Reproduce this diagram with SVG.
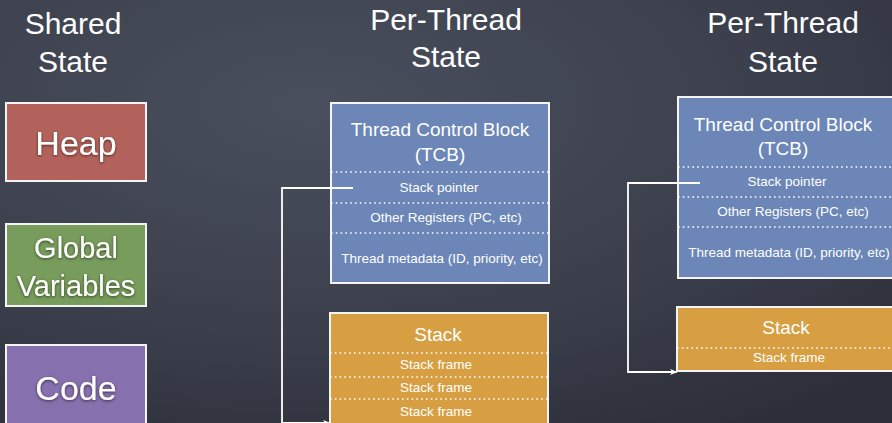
<svg xmlns="http://www.w3.org/2000/svg" width="892" height="423" viewBox="0 0 892 423">
  <defs>
    <radialGradient id="board" cx="0.35" cy="0.25" r="0.9">
      <stop offset="0" stop-color="#4a4f5d"/>
      <stop offset="0.6" stop-color="#3b3f4c"/>
      <stop offset="1" stop-color="#2c2f39"/>
    </radialGradient>
    <filter id="glow" x="-20%" y="-20%" width="140%" height="140%">
      <feGaussianBlur in="SourceAlpha" stdDeviation="1.5"/>
      <feOffset dx="0" dy="1"/>
      <feComponentTransfer><feFuncA type="linear" slope="0.6"/></feComponentTransfer>
      <feMerge><feMergeNode/><feMergeNode in="SourceGraphic"/></feMerge>
    </filter>
    <marker id="arrow" viewBox="0 0 10 10" refX="9" refY="5" markerWidth="8" markerHeight="8" orient="auto" markerUnits="userSpaceOnUse">
      <path d="M0,1 L10,5 L0,9 L3,5 Z" fill="#ffffff"/>
    </marker>
  </defs>
  <style>
    text { font-family: "Liberation Sans", Arial, sans-serif; fill: #ffffff; text-anchor: middle; }
    .title { font-size: 30px; }
    .box { stroke: #f4f4f4; stroke-width: 2; }
    .heap { fill: #b3625b; }
    .globals { fill: #789c5c; }
    .code { fill: #8670ad; }
    .tcb { fill: #6b86b7; }
    .stack { fill: #d79f42; }
    .sep { stroke: #ffffff; stroke-width: 1.6; stroke-dasharray: 1.6 3.2; fill: none; }
    .big { font-size: 34px; filter: url(#glow); }
    .mid { font-size: 29px; filter: url(#glow); }
    .head { font-size: 19px; }
    .field { font-size: 13.5px; }
    .wire { stroke: #ffffff; stroke-width: 1.8; fill: none; }
  </style>

  <rect width="892" height="423" fill="url(#board)"/>

  <!-- column titles -->
  <g id="title-shared">
    <text class="title" x="73" y="34">Shared</text>
    <text class="title" x="73" y="72">State</text>
  </g>
  <g id="title-thread-1">
    <text class="title" x="446" y="30">Per-Thread</text>
    <text class="title" x="446" y="67">State</text>
  </g>
  <g id="title-thread-2">
    <text class="title" x="783" y="33">Per-Thread</text>
    <text class="title" x="783" y="72">State</text>
  </g>

  <!-- shared state -->
  <g id="heap">
    <rect class="box heap" x="6" y="103" width="140" height="78"/>
    <text class="big" x="76" y="155">Heap</text>
  </g>
  <g id="global-variables">
    <rect class="box globals" x="6" y="224" width="140" height="82"/>
    <text class="mid" x="76" y="258">Global</text>
    <text class="mid" x="76" y="296">Variables</text>
  </g>
  <g id="code">
    <rect class="box code" x="6" y="345" width="140" height="90"/>
    <text class="big" x="76" y="400">Code</text>
  </g>

  <!-- thread 1 -->
  <g id="tcb-1">
    <rect class="box tcb" x="331" y="103" width="218" height="180"/>
    <text class="head" x="440" y="136">Thread Control Block</text>
    <text class="head" x="440" y="161">(TCB)</text>
    <line class="sep" x1="331" y1="172" x2="549" y2="172"/>
    <text class="field" x="439" y="192">Stack pointer</text>
    <line class="sep" x1="331" y1="203" x2="549" y2="203"/>
    <text class="field" x="446" y="222">Other Registers (PC, etc)</text>
    <line class="sep" x1="331" y1="233" x2="549" y2="233"/>
    <text class="field" x="442" y="263">Thread metadata (ID, priority, etc)</text>
  </g>
  <g id="stack-1">
    <rect class="box stack" x="330" y="313" width="218" height="130"/>
    <text class="head" x="438" y="341">Stack</text>
    <line class="sep" x1="330" y1="353" x2="548" y2="353"/>
    <text class="field" x="436" y="369">Stack frame</text>
    <line class="sep" x1="330" y1="377" x2="548" y2="377"/>
    <text class="field" x="436" y="392">Stack frame</text>
    <line class="sep" x1="330" y1="399" x2="548" y2="399"/>
    <text class="field" x="436" y="416">Stack frame</text>
  </g>

  <!-- thread 2 -->
  <g id="tcb-2">
    <rect class="box tcb" x="678" y="97" width="222" height="181"/>
    <text class="head" x="783" y="131">Thread Control Block</text>
    <text class="head" x="783" y="155">(TCB)</text>
    <line class="sep" x1="678" y1="167" x2="892" y2="167"/>
    <text class="field" x="787" y="186">Stack pointer</text>
    <line class="sep" x1="678" y1="197" x2="892" y2="197"/>
    <text class="field" x="793" y="216">Other Registers (PC, etc)</text>
    <line class="sep" x1="678" y1="227" x2="892" y2="227"/>
    <text class="field" x="789" y="257">Thread metadata (ID, priority, etc)</text>
  </g>
  <g id="stack-2">
    <rect class="box stack" x="677" y="307" width="223" height="64"/>
    <text class="head" x="786" y="334">Stack</text>
    <line class="sep" x1="677" y1="348" x2="892" y2="348"/>
    <text class="field" x="789" y="362">Stack frame</text>
  </g>

  <!-- stack pointer connectors -->
  <g id="connectors">
    <path class="wire" d="M353,188 H282 V423 H330" marker-end="url(#arrow)"/>
    <path class="wire" d="M700,183 H628 V372 H677" marker-end="url(#arrow)"/>
  </g>
</svg>
